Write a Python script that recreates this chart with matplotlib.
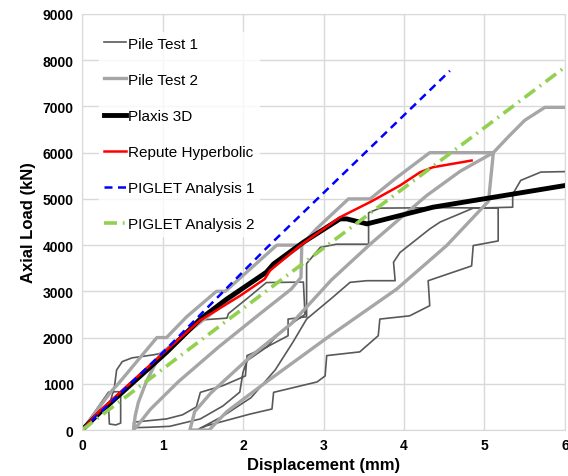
import matplotlib
matplotlib.use("Agg")
import matplotlib.pyplot as plt

plt.rcParams['font.family'] = ['Liberation Sans', 'DejaVu Sans']

# Pile Test 1 (load cycles with stepped unloading / reloading)
pt1_x = [0, 0.33, 0.45, 0.48, 0.48, 0.42, 0.34, 0.33, 0.40, 0.43, 0.50, 0.62, 0.90, 1.03,
         1.20, 1.47, 1.80, 1.82, 2.09, 2.29, 2.75,
         2.77, 2.60, 2.40, 2.30, 2.05, 2.00, 1.96, 1.75, 1.47, 1.09, 0.84, 0.64,
         0.64, 1.05, 1.25, 1.42, 1.47, 1.75, 2.03, 2.05, 2.30, 2.56, 2.56, 2.79, 2.79,
         2.96, 3.16, 3.56,
         3.56, 3.70, 4.45, 5.17,
         5.17, 4.86, 4.84, 4.30, 4.32, 4.07, 3.70, 3.68, 3.45, 3.04, 3.02, 2.92, 2.38,
         2.36, 2.09, 1.55, 1.45,
         1.75, 2.10, 2.40, 2.62, 2.79, 3.10, 3.33, 3.54, 3.89, 3.87, 3.95, 4.32, 4.45,
         4.86, 5.35, 5.35, 5.45, 5.70, 6.00]
pt1_y = [0, 820, 830, 780, 150, 110, 130, 500, 900, 1300, 1480, 1560, 1630, 1680,
         1980, 2380, 2420, 2520, 2900, 3190, 3200,
         2500, 2300, 2000, 1800, 1500, 1250, 820, 520, 240, 80, 60, 50,
         170, 240, 330, 500, 815, 960, 1170, 1610, 1800, 2040, 2400, 2450, 3600,
         3950, 4020, 4020,
         4700, 4800, 4810, 4800,
         4090, 3990, 3550, 3230, 2690, 2470, 2400, 2040, 1690, 1610, 1170, 1040, 815,
         455, 346, 93, 20,
         300, 700, 1300, 1900, 2400, 2850, 3195, 3230, 3230, 3630, 3840, 4350, 4500,
         4800, 4820, 5100, 5400, 5580, 5590]

# Pile Test 2
pt2_x = [0, 0.37, 0.45, 0.93, 1.05, 1.30, 1.67, 1.78, 2.10, 2.42, 2.73,
         2.72, 2.60, 2.20, 1.70, 1.20, 0.85, 0.70, 0.64,
         0.66, 0.70, 0.80, 0.97, 1.30, 1.63, 2.00, 2.33, 2.73, 2.91, 3.31, 3.58, 3.90,
         4.32, 5.11,
         5.05, 4.53, 3.91, 3.08, 2.29, 1.80, 1.58, 1.34,
         1.40, 1.60, 2.10, 2.60, 3.10, 3.58, 4.28, 4.70, 5.11, 5.30, 5.50, 5.75, 6.00]
pt2_y = [0, 850, 1000, 2000, 2000, 2450, 3000, 3000, 3500, 4000, 4000,
         3300, 3050, 2500, 1800, 1050, 450, 120, 0,
         300, 600, 1050, 1640, 2100, 2550, 3050, 3480, 4000, 4350, 5000, 5000, 5450,
         6000, 6000,
         4950, 3990, 3050, 2040, 1040, 400, 0, 0,
         400, 800, 1600, 2300, 3250, 4020, 5070, 5600, 6000, 6350, 6700, 6980, 6980]

# Plaxis 3D
plaxis_x = [0, 0.224, 1.05, 1.47, 1.80, 2.29, 2.38, 2.75, 3.205, 3.29, 3.54, 4.36, 4.99, 6.0]
plaxis_y = [0, 382, 1681, 2403, 2835, 3413, 3593, 4062, 4567, 4567, 4459, 4820, 5000, 5289]

# Repute Hyperbolic
repute_x = [0, 0.224, 1.0, 1.465, 1.96, 2.27, 2.335, 2.71, 3.205, 3.6, 3.95, 4.2, 4.36, 4.84]
repute_y = [0, 418, 1650, 2370, 2900, 3268, 3449, 3990, 4603, 4950, 5289, 5577, 5685, 5830]

# PIGLET Analysis 1
piglet1_x = [0, 1.0, 2.3, 4.57]
piglet1_y = [0, 1670, 3950, 7770]

# PIGLET Analysis 2
piglet2_x = [0, 1.47, 2.71, 4.76, 6.0]
piglet2_y = [0, 1934, 3557, 6227, 7850]

fig = plt.figure(figsize=(5.68, 4.77), dpi=100)
ax = fig.add_axes([0.1444, 0.0964, 0.8503, 0.8722])

ax.plot(pt1_x, pt1_y, color='#595959', lw=1.2, label='Pile Test 1')
ax.plot(pt2_x, pt2_y, color='#A6A6A6', lw=2.4, label='Pile Test 2')
ax.plot(plaxis_x, plaxis_y, color='black', lw=3.5, label='Plaxis 3D')
ax.plot(repute_x, repute_y, color='#FF0000', lw=1.8, label='Repute Hyperbolic')
ax.plot(piglet1_x, piglet1_y, color='#0000FF', lw=1.8, linestyle=(0, (3.2, 2.2)),
        label='PIGLET Analysis 1')
ax.plot(piglet2_x, piglet2_y, color='#92D050', lw=2.6, linestyle=(0, (3.6, 1.6, 0.5, 1.6)),
        label='PIGLET Analysis 2')

ax.set_xlim(0, 6)
ax.set_ylim(0, 9000)
ax.set_xticks(range(0, 7))
ax.set_yticks(range(0, 9001, 1000))
ax.grid(True, color='#D9D9D9', lw=1)
ax.set_axisbelow(True)
for s in ax.spines.values():
    s.set_color('#D9D9D9')
ax.tick_params(length=0, labelsize=10, pad=6)
for t in ax.get_xticklabels() + ax.get_yticklabels():
    t.set_fontweight('bold')

ax.set_xlabel('Displacement (mm)', fontsize=12, fontweight='bold', labelpad=3)
ax.set_ylabel('Axial Load (kN)', fontsize=12, fontweight='bold', labelpad=5)

leg = ax.legend(loc='upper left', bbox_to_anchor=(0.02, 0.975), frameon=True,
                fontsize=11, labelspacing=1.45, handlelength=1.45, handletextpad=0.15,
                borderpad=0.3, fancybox=False)
leg.get_frame().set_facecolor('white')
leg.get_frame().set_edgecolor('white')

fig.savefig('out.png', dpi=100)
